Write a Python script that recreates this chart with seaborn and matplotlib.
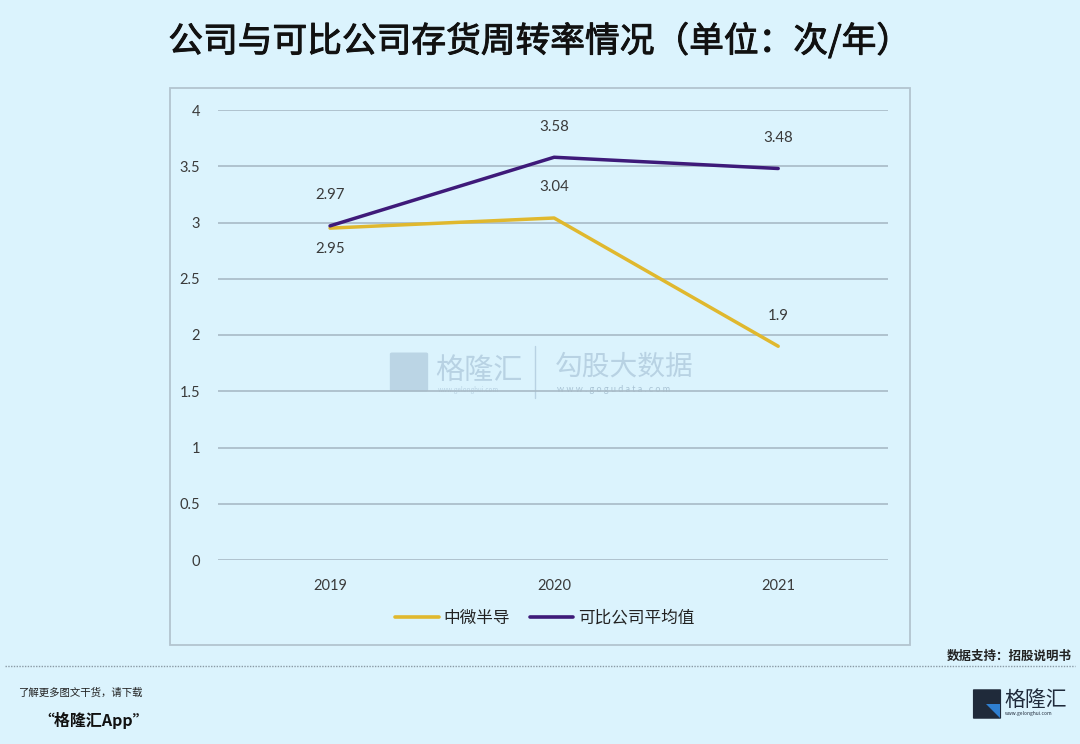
import matplotlib
matplotlib.use("Agg")
import matplotlib.pyplot as plt
import matplotlib.patches as mpatches
import matplotlib.lines as mlines
import matplotlib.patheffects as pe
import pandas as pd
import seaborn as sns

years = ["2019", "2020", "2021"]
zw_values = [2.95, 3.04, 1.90]       # 中微半导
peer_values = [2.97, 3.58, 3.48]     # 可比公司平均值
series_names = ["中微半导", "可比公司平均值"]
y_ticks = [0, 0.5, 1, 1.5, 2, 2.5, 3, 3.5, 4]
y_tick_labels = ["0", "0.5", "1", "1.5", "2", "2.5", "3", "3.5", "4"]

title = "公司与可比公司存货周转率情况（单位：次/年）"
source = "数据支持：招股说明书"

bg = "#dbf3fd"
yellow = "#e0b82e"
purple = "#3e1a79"
grid_c = "#a8bac6"
text_c = "#3a3a3a"

sns.set_theme(style="white")
plt.rcParams["font.family"] = ["Noto Sans CJK SC", "DejaVu Sans"]

df = pd.DataFrame({
    "year": years * 2,
    "value": zw_values + peer_values,
    "series": [series_names[0]] * 3 + [series_names[1]] * 3,
})

fig = plt.figure(figsize=(10.8, 7.44), dpi=100, facecolor=bg)

# chart frame
fig.patches.append(mpatches.Rectangle((170 / 1080, 1 - 645 / 744), 740 / 1080, 557 / 744,
                                      transform=fig.transFigure, facecolor=bg,
                                      edgecolor="#b3c4cf", lw=1.3, zorder=-5))

ax = fig.add_axes([218 / 1080, 1 - 560 / 744, 670 / 1080, 450 / 744])
ax.set_facecolor("none")
ax.set_zorder(2)

# watermark (behind the lines)
wm = "#b8d2e3"
fig.patches.append(mpatches.FancyBboxPatch((392 / 1080, 1 - 390 / 744), 34 / 1080, 36 / 744,
                                           boxstyle="round,pad=0.002", transform=fig.transFigure,
                                           facecolor=wm, edgecolor="none", alpha=0.9, zorder=1))
fig.text(435 / 1080, 1 - 371 / 744, "格隆汇", fontsize=21, color=wm, va="center", zorder=1)
fig.text(438 / 1080, 1 - 390 / 744, "www.gelonghui.com", fontsize=4.5, color=wm, va="center", zorder=1)
fig.lines.append(mlines.Line2D([535 / 1080, 535 / 1080], [1 - 346 / 744, 1 - 398 / 744],
                               transform=fig.transFigure, color=wm, lw=1, zorder=1))
fig.text(555 / 1080, 1 - 367 / 744, "勾股大数据", fontsize=20, color=wm, va="center", zorder=1)
fig.text(557 / 1080, 1 - 389 / 744, "w w w . g o g u d a t a . c o m", fontsize=6.5,
         color="#a9c3d4", va="center", family=["Lato", "DejaVu Sans"], zorder=1)

sns.lineplot(data=df, x="year", y="value", hue="series",
             palette=[yellow, purple], linewidth=2.5, ax=ax, legend=False,
             sort=False)

ax.set_xlim(-0.5, 2.49)
ax.set_ylim(0, 4)
ax.set_yticks(y_ticks)
ax.set_yticklabels(y_tick_labels)
for v in y_ticks:
    ax.axhline(v, color=grid_c, lw=1.2, zorder=0)
for s in ax.spines.values():
    s.set_visible(False)
ax.tick_params(axis="both", length=0, labelsize=10.5, labelcolor=text_c)
ax.tick_params(axis="y", pad=13)
ax.tick_params(axis="x", pad=14)
for lab in ax.get_xticklabels() + ax.get_yticklabels():
    lab.set_family(["Lato", "DejaVu Sans"])
ax.set_xlabel("")
ax.set_ylabel("")

# data labels
lab_kw = dict(ha="center", fontsize=10.8, color=text_c, family=["Lato", "DejaVu Sans"])
for i, v in enumerate(peer_values):
    ax.annotate(f"{v:g}", (i, v), xytext=(0, 17), textcoords="offset points", va="bottom", **lab_kw)
for i, v in enumerate(zw_values):
    if i == 0:
        ax.annotate(f"{v:g}", (i, v), xytext=(0, -10), textcoords="offset points", va="top", **lab_kw)
    else:
        ax.annotate(f"{v:g}", (i, v), xytext=(0, 17), textcoords="offset points", va="bottom", **lab_kw)

# legend
handles = [mlines.Line2D([], [], color=yellow, lw=2.6),
           mlines.Line2D([], [], color=purple, lw=2.6)]
fig.legend(handles, series_names, loc="center", bbox_to_anchor=(545 / 1080, 1 - 618 / 744),
           ncol=2, frameon=False, fontsize=12, handlelength=2.6, handletextpad=0.3,
           columnspacing=1.2, labelcolor="#222222")

# title & footer
fig.text(0.5, 1 - 42 / 744, title, ha="center", va="center", fontsize=25,
         color="#111111", path_effects=[pe.withStroke(linewidth=0.7, foreground="#111111")])
fig.text(1072 / 1080, 1 - 656 / 744, source, ha="right", va="center", fontsize=9,
         fontweight="bold", color="#222222")
fig.lines.append(mlines.Line2D([5 / 1080, 1075 / 1080], [1 - 666 / 744, 1 - 666 / 744],
                               transform=fig.transFigure, color="#8a9aa5", lw=1,
                               linestyle=(0, (1, 1))))
fig.text(18 / 1080, 1 - 693 / 744, "了解更多图文干货，请下载", fontsize=7.5, fontstyle="italic",
         color="#222222", va="center")
fig.text(38 / 1080, 1 - 720 / 744, "“格隆汇App”", fontsize=11.5, fontstyle="italic",
         fontweight="bold", color="#111111", va="center")

# logo bottom right
fig.patches.append(mpatches.FancyBboxPatch((974 / 1080, 1 - 718 / 744), 26 / 1080, 28 / 744,
                                           boxstyle="round,pad=0.001", transform=fig.transFigure,
                                           facecolor="#1f2a3a", edgecolor="none"))
fig.patches.append(mpatches.Polygon([(986 / 1080, 1 - 704 / 744), (1000 / 1080, 1 - 704 / 744),
                                     (1000 / 1080, 1 - 718 / 744)], closed=True,
                                    transform=fig.transFigure, facecolor="#2f7fd0", edgecolor="none"))
fig.text(1004 / 1080, 1 - 700 / 744, "格隆汇", fontsize=15, color="#1f2a3a", va="center")
fig.text(1005 / 1080, 1 - 714 / 744, "www.gelonghui.com", fontsize=3.5, color="#1f2a3a", va="center")

fig.savefig("out.png", dpi=100, facecolor=bg)
